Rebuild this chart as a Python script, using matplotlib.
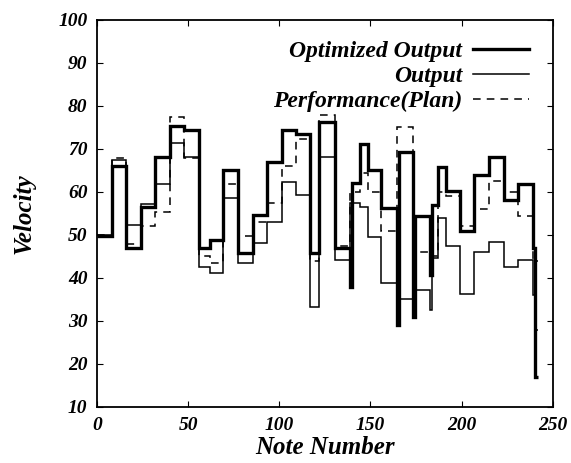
import matplotlib
matplotlib.use("Agg")
import matplotlib.pyplot as plt

# step boundaries (note numbers) and velocities
opt_edges = [0, 8.4, 16, 24, 31.7, 40.2, 47.9, 56.1,
             61.7, 69.3, 77.1, 85.3, 93.5, 101.4, 109, 117,
             122, 130.5, 139, 140, 144.1, 148.5, 156, 164.8,
             165.8, 173.6, 174.6, 182.7, 183.7, 187.2, 191.5, 199.1,
             206.9, 214.9, 223.3, 230.9, 239.1, 240.5, 242]
opt_vals = [49.8, 66, 47, 56.5, 68.2, 75.4, 74.3, 47,
            48.8, 65, 45.7, 54.7, 67, 74.3, 73.4, 45.7,
            76.3, 46.9, 38, 62, 71.1, 65.1, 56.2, 29,
            69.4, 31, 54.3, 40.7, 57, 65.9, 60.3, 50.9,
            64, 68.1, 58.1, 61.9, 47, 17]

out_edges = [0, 8.4, 16, 24, 31.7, 40.2, 47.9, 56.1,
             61.7, 69.3, 77.1, 85.3, 93.5, 101.4, 109, 117,
             122, 130.5, 139, 144.1, 148.5, 156, 164.8, 173.6,
             182.7, 183.7, 187.2, 191.5, 199.1, 206.9, 214.9, 223.3,
             230.9, 239.1, 240.5, 242]
out_vals = [50, 67.5, 52.2, 57.2, 61.8, 71.3, 68.2, 42.6,
            41.1, 58.5, 43.4, 48.1, 52.9, 62.4, 59.3, 33.3,
            68.2, 44.2, 57.4, 56.4, 49.6, 38.8, 35.1, 37.2,
            32.6, 44.6, 53.9, 47.5, 36.3, 46.1, 48.3, 42.5,
            44.2, 36, 28]

plan_edges = [0, 8.4, 16, 24, 31.7, 40.2, 47.9, 56.1,
              61.7, 69.3, 77.1, 85.3, 93.5, 101.4, 109, 117,
              122, 130.5, 139, 144.1, 148.5, 156, 164.8, 173.6,
              182.7, 187.2, 191.5, 199.1, 206.9, 214.9, 223.3, 230.9,
              239.1, 242]
plan_vals = [50, 67.8, 47.8, 52.1, 55.3, 77.5, 68, 45,
             43.5, 61.8, 49.8, 53, 57.5, 66, 72.2, 44,
             78, 47.5, 60, 64.5, 60, 51, 75, 46,
             45, 60, 59, 52, 56, 62.5, 60, 54.4,
             44]

xticks = [0, 50, 100, 150, 200, 250]
yticks = [10, 20, 30, 40, 50, 60, 70, 80, 90, 100]

plt.rcParams['font.family'] = ['Liberation Serif', 'DejaVu Serif']
plt.rcParams['font.weight'] = 'bold'
plt.rcParams['font.style'] = 'italic'
plt.rcParams['axes.labelweight'] = 'bold'

fig = plt.figure(figsize=(5.71, 4.63), dpi=100)
ax = fig.add_axes([0.170, 0.121, 0.798, 0.836])

ax.stairs(opt_vals, opt_edges, baseline=None, color='black', lw=2.4,
          label='Optimized Output')
ax.stairs(out_vals, out_edges, baseline=None, color='black', lw=1.1,
          label='Output')
ax.stairs(plan_vals, plan_edges, baseline=None, color='black', lw=1.1,
          linestyle=(0, (5, 4)), label='Performance(Plan)')

ax.set_xlim(0, 250)
ax.set_ylim(10, 100)
ax.set_xticks(xticks)
ax.set_yticks(yticks)
ax.tick_params(direction='in', top=True, right=True, length=4, pad=7)
for lab in ax.get_xticklabels() + ax.get_yticklabels():
    lab.set_fontsize(14)
    lab.set_fontweight('bold')
    lab.set_fontstyle('italic')
for s in ax.spines.values():
    s.set_linewidth(1.3)

ax.set_xlabel('Note Number', fontsize=18, fontweight='bold',
              fontstyle='italic', labelpad=2)
ax.set_ylabel('Velocity', fontsize=18, fontweight='bold',
              fontstyle='italic', labelpad=16)

leg = ax.legend(loc='upper right', frameon=False, markerfirst=False,
                prop={'size': 17, 'weight': 'bold', 'style': 'italic'},
                handlelength=2.4, handletextpad=0.45,
                labelspacing=0.16, borderaxespad=0.3,
                bbox_to_anchor=(0.985, 0.99))

fig.savefig('out.png', dpi=100)
